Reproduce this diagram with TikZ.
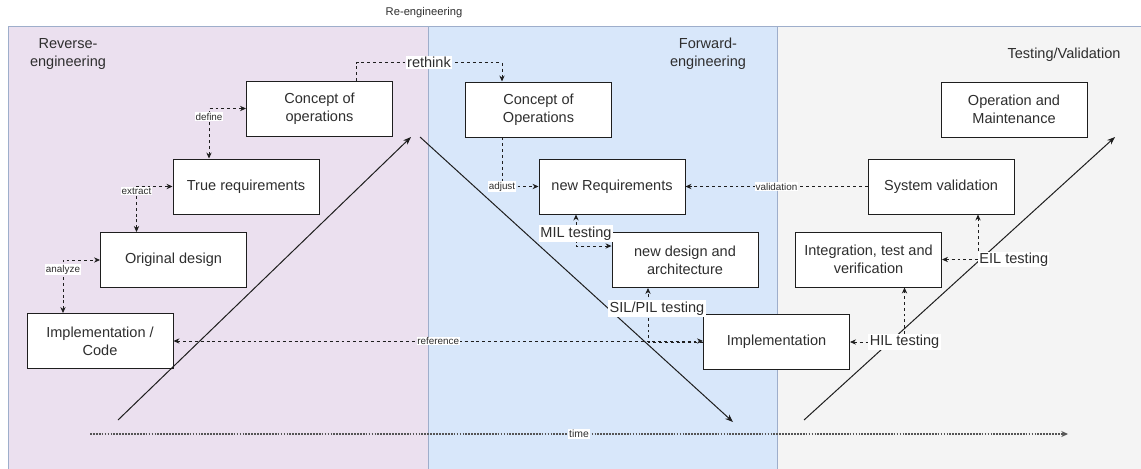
\documentclass[tikz,border=0pt]{standalone}
\usepackage{fontspec}
\setmainfont{Liberation Sans}
\usetikzlibrary{arrows.meta,calc}
\definecolor{revfill}{HTML}{EBE0EF}
\definecolor{fwdfill}{HTML}{D8E7FA}
\definecolor{tstfill}{HTML}{F4F4F4}
\definecolor{regline}{HTML}{9EAECB}
\definecolor{txt}{HTML}{2E2E2E}
\definecolor{ink}{HTML}{1E1E1E}
\definecolor{axis}{HTML}{555555}
\begin{document}
\begin{tikzpicture}[x=0.75pt,y=-0.75pt,
  box/.style={draw=ink, line width=0.75pt, fill=white, minimum width=109.5pt,
    minimum height=41.25pt, align=center, text=txt, inner sep=1pt,
    font=\fontsize{10.9}{13.4}\selectfont},
  region/.style={align=center, text=txt, font=\fontsize{10.9}{13.5}\selectfont},
  flow/.style={draw=ink, line width=0.75pt, -{Stealth[length=6pt,width=4.5pt]}},
  link/.style={draw=ink, line width=0.6pt, dash pattern=on 2.2pt off 2.2pt,
    >={Stealth[length=4.5pt,width=4pt]}},
  tiny/.style={fill=white, text=txt, inner sep=0.6pt, font=\fontsize{7.4}{8}\selectfont},
  big/.style={fill=white, text=txt, inner sep=1pt, font=\fontsize{10.9}{12}\selectfont},
]
\useasboundingbox (0,0) rectangle (1141,468);

% phase backgrounds
\fill[revfill] (8,26) rectangle (428,470);
\fill[fwdfill] (428,26) rectangle (777,470);
\fill[tstfill] (777,26) rectangle (1141,470);
\draw[regline, line width=0.6pt] (8,470) -- (8,26) -- (1141,26);
\draw[regline, line width=0.6pt] (428,26) -- (428,470);
\draw[regline, line width=0.6pt] (777,26) -- (777,470);

% phase titles
\node[text=txt, font=\fontsize{8.4}{9}\selectfont] (ttlre) at (424,13) {Re-engineering};
\node[region] (ttlrev) at (68,54) {Reverse-\\engineering};
\node[region] (ttlfwd) at (708,54) {Forward-\\engineering};
\node[region] (ttltst) at (1064,55) {Testing/Validation};

% reverse-engineering steps
\node[box] (coL) at (319.5,108.5) {Concept of\\operations};
\node[box] (tr)  at (246,186.5) {True requirements};
\node[box] (od)  at (173.5,260) {Original design};
\node[box] (ic)  at (100,341) {Implementation /\\Code};

% forward-engineering steps
\node[box] (coR) at (538.5,109.5) {Concept of\\Operations};
\node[box] (nr)  at (612,186.5) {new Requirements};
\node[box] (nd)  at (685,260) {new design and\\architecture};
\node[box] (im)  at (776.5,342) {Implementation};

% testing / validation steps
\node[box] (om) at (1014,109.5) {Operation and\\Maintenance};
\node[box] (sv) at (941,186.5) {System validation};
\node[box] (it) at (868.5,259.5) {Integration, test and\\verification};

% V-model direction lines
\coordinate (vA0) at (118,420);
\coordinate (vA1) at (411,137);
\coordinate (vB0) at (420,137);
\coordinate (vB1) at (733,422);
\coordinate (vC0) at (804,420);
\coordinate (vC1) at (1115,137);
\draw[flow] (vA0) -- (vA1);
\draw[flow] (vB0) -- (vB1);
\draw[flow] (vC0) -- (vC1);

% reverse-engineering links
\draw[link,<->] ($(tr.north)+(-37,0)$) |- node[pos=0.42,tiny]{define} (coL.west);
\draw[link,<->] ($(od.north)+(-37,0)$) |- node[pos=0.45,tiny]{extract} (tr.west);
\draw[link,<->] ($(ic.north)+(-37,0)$) |- node[pos=0.41,tiny]{analyze} (od.west);

% re-engineering bridge
\draw[link,->] ($(coL.north)+(36.5,0)$) -- ++(0,-18) coordinate (rk)
  -| node[pos=0.25,big]{rethink} ($(coR.north)+(-36.5,0)$);
\draw[link,<->] (ic.east) -- node[tiny]{reference} (ic.east -| im.west);

% forward-engineering links
\draw[link,->] ($(coR.south)+(-36.5,0)$) |- node[pos=0.5,tiny]{adjust} (nr.west);
\draw[link,<->] ($(nd.west)+(0,-14)$) -| node[pos=0.7,big]{MIL testing} ($(nr.south)+(-36,0)$);
\draw[link,->] (im.west) -| node[pos=0.81,big,xshift=6.75pt]{SIL/PIL testing} ($(nd.south)+(-37,0)$);

% testing links
\draw[link,->] (sv.west) -- node[tiny]{validation} (nr.east);
\draw[link,<->] (im.east) -| node[pos=0.5,big]{HIL testing} ($(it.south)+(36,0)$);
\draw[link,<->] (it.east) -| node[pos=0.5,big,anchor=west,inner sep=0.8pt]{EIL testing} ($(sv.south)+(37,0)$);

% time axis
\coordinate (t0) at (90,434);
\coordinate (t1) at (1068,434);
\draw[draw=axis, line width=0.9pt, dash pattern=on 1.3pt off 0.9pt,
  -{Stealth[length=5pt,width=4.5pt]}] (t0) -- node[tiny,font=\fontsize{7.8}{8}\selectfont]{time} (t1);
\end{tikzpicture}
\end{document}
